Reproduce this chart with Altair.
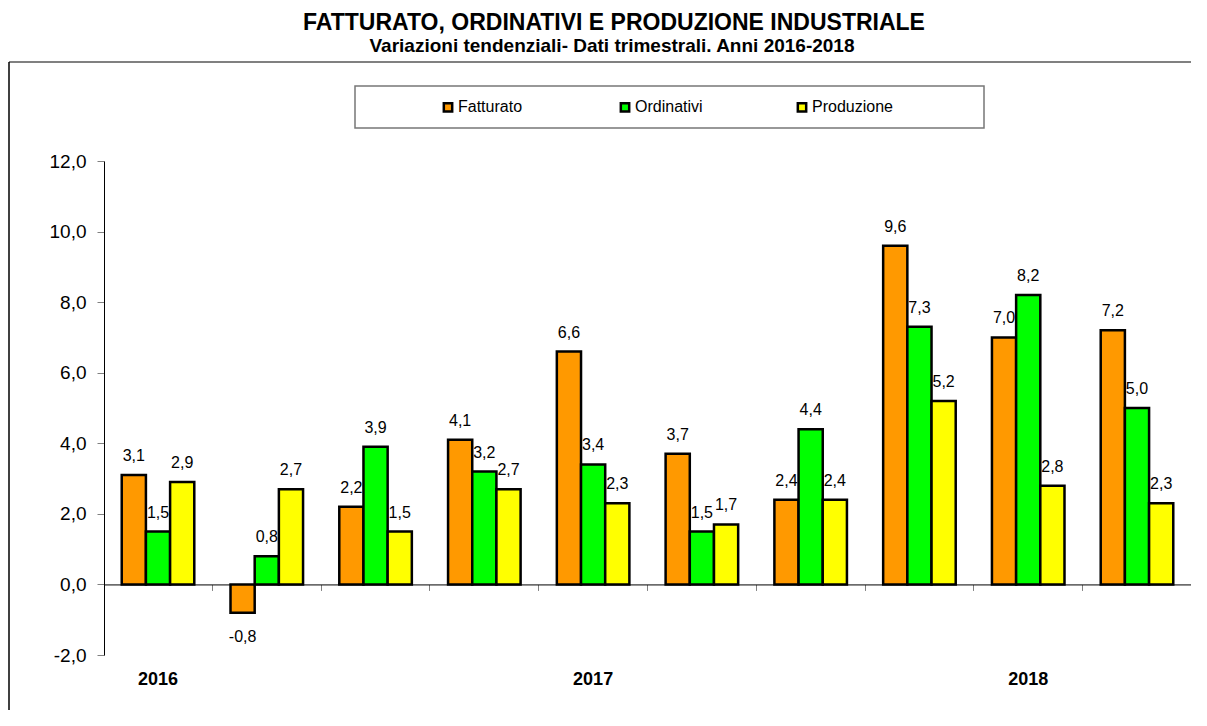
import altair as alt
import pandas as pd

# ---- data ----
quarters = ["2016-T1", "2016-T2", "2016-T3", "2016-T4", "2017-T1",
            "2017-T2", "2017-T3", "2017-T4", "2018-T1", "2018-T2"]
fatturato = [3.1, -0.8, 2.2, 4.1, 6.6, 3.7, 2.4, 9.6, 7.0, 7.2]
ordinativi = [1.5, 0.8, 3.9, 3.2, 3.4, 1.5, 4.4, 7.3, 8.2, 5.0]
produzione = [2.9, 2.7, 1.5, 2.7, 2.3, 1.7, 2.4, 5.2, 2.8, 2.3]
series = ["Fatturato", "Ordinativi", "Produzione"]
colors = ["#FF9900", "#00FF00", "#FFFF00"]
year_labels = ["2016", "2017", "2018"]
year_quarters = ["2016-T1", "2017-T1", "2018-T1"]
y_ticks = [-2, 0, 2, 4, 6, 8, 10, 12]
title_text = "FATTURATO, ORDINATIVI E PRODUZIONE INDUSTRIALE"
subtitle_text = "Variazioni tendenziali- Dati trimestrali. Anni 2016-2018"

rows = []
for name, vals in zip(series, [fatturato, ordinativi, produzione]):
    for q, v in zip(quarters, vals):
        rows.append({"trimestre": q, "serie": name, "valore": v})
df = pd.DataFrame(rows)
years_df = pd.DataFrame({"trimestre": year_quarters, "anno": year_labels})
titles_df = pd.DataFrame({"t": [title_text], "s": [subtitle_text]})
one = pd.DataFrame({"k": [0]})

W, H = 1087, 494
FONT = "Liberation Sans"
P_IN, P_OUT = 0.333, 0.163

x_enc = alt.X(
    "trimestre:N", sort=quarters,
    scale=alt.Scale(paddingInner=P_IN, paddingOuter=P_OUT),
    axis=alt.Axis(labels=False, title=None,
                  bandPosition=1 + (P_IN / 2) / (1 - P_IN),
                  tickColor="#808080", tickSize=6, domainColor="black",
                  domainWidth=1, offset=-H * 2 / 14),
)
y_scale = alt.Scale(domain=[-2, 12], nice=False, zero=False)
xoff = alt.XOffset("serie:N", sort=series,
                   scale=alt.Scale(paddingInner=0, paddingOuter=0))

label_expr = "(datum.valore < 0 ? '-' : '') + replace(format(abs(datum.valore), '.1f'), '.', ',')"

bars = alt.Chart(df).mark_bar(stroke="black", strokeWidth=2.5).encode(
    x=x_enc,
    xOffset=xoff,
    y=alt.Y("valore:Q", scale=y_scale, axis=alt.Axis(
        values=y_ticks, title=None, grid=False, tickColor="#808080",
        tickSize=7, domainColor="black", labelFontSize=19,
        labelColor="black", labelPadding=11,
        labelExpr="(datum.value < 0 ? '-' : '') + replace(format(abs(datum.value), '.1f'), '.', ',')")),
    color=alt.Color("serie:N", scale=alt.Scale(domain=series, range=colors),
                    legend=alt.Legend(
                        title=None, orient="none", direction="horizontal",
                        legendX=336, legendY=-62, columns=3, gridAlign="all",
                        columnPadding=76, symbolType="square", symbolSize=70,
                        symbolStrokeColor="black", symbolStrokeWidth=2.5,
                        labelFontSize=16, labelColor="black", labelOffset=2,
                        padding=0)),
)

pos_labels = alt.Chart(df).transform_filter("datum.valore >= 0").transform_calculate(
    lab=label_expr
).mark_text(fontSize=16, baseline="alphabetic", dy=-14, color="black").encode(
    x=alt.X("trimestre:N", sort=quarters), xOffset=xoff,
    y=alt.Y("valore:Q", scale=y_scale), text="lab:N")

neg_labels = alt.Chart(df).transform_filter("datum.valore < 0").transform_calculate(
    lab=label_expr
).mark_text(fontSize=16, baseline="alphabetic", dy=29, color="black").encode(
    x=alt.X("trimestre:N", sort=quarters), xOffset=xoff,
    y=alt.Y("valore:Q", scale=y_scale), text="lab:N")

years = alt.Chart(years_df).mark_text(
    fontSize=18, fontWeight="bold", baseline="alphabetic", color="black"
).encode(x=alt.X("trimestre:N", sort=quarters), y=alt.value(H + 30), text="anno:N")

title_mark = alt.Chart(titles_df).mark_text(
    fontSize=23, fontWeight="bold", baseline="alphabetic", color="black", align="center"
).encode(x=alt.value(510), y=alt.value(-131), text="t:N")
subtitle_mark = alt.Chart(titles_df).mark_text(
    fontSize=19, fontWeight="bold", baseline="alphabetic", color="black", align="center"
).encode(x=alt.value(508), y=alt.value(-109), text="s:N")

frame_top = alt.Chart(one).mark_rule(color="#808080", strokeWidth=2).encode(
    x=alt.value(-95), x2=alt.value(W + 20), y=alt.value(-99))
frame_left = alt.Chart(one).mark_rule(color="black", strokeWidth=1.5).encode(
    x=alt.value(-95), y=alt.value(-99), y2=alt.value(H + 80))
legend_box = alt.Chart(one).mark_rect(
    fill="white", stroke="#777777", strokeWidth=1.5).encode(
    x=alt.value(251), x2=alt.value(880), y=alt.value(-75), y2=alt.value(-33))

chart = alt.layer(frame_top, frame_left, legend_box, bars, pos_labels, neg_labels,
                  years, title_mark, subtitle_mark).properties(
    width=W, height=H,
    autosize=alt.AutoSizeParams(type="none"),
    padding={"left": 96, "top": 153, "right": 0, "bottom": 55},
).configure(font=FONT).configure_view(stroke=None)

chart.save("out.html", embed_options={"renderer": "svg", "actions": False})
